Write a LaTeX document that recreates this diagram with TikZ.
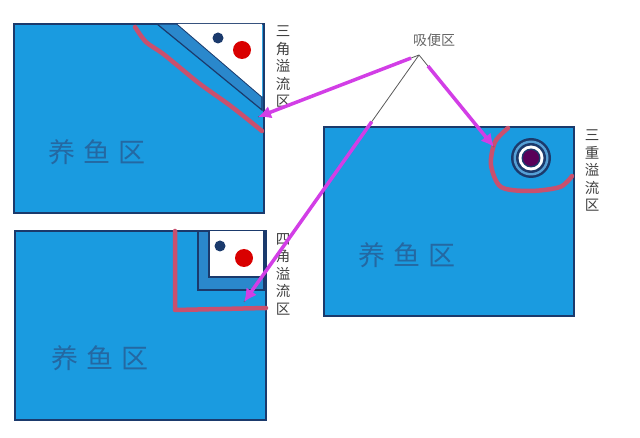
\documentclass[tikz,border=0pt]{standalone}
\usepackage{fontspec}
\newfontfamily\cjk{Noto Sans CJK SC}
\usetikzlibrary{arrows.meta, calc}
\definecolor{pondblue}{HTML}{1A9BE0}
\definecolor{stripblue}{HTML}{2A88CC}
\definecolor{edgenavy}{HTML}{1B3A6C}
\definecolor{wastered}{HTML}{C9506E}
\definecolor{arrowpink}{HTML}{D23EE6}
\definecolor{fishtext}{HTML}{2468A2}

\begin{document}
\begin{tikzpicture}[x=1pt, y=-1pt,
    tank/.style={rectangle, draw=edgenavy, line width=2pt, fill=pondblue,
      anchor=north west, inner sep=0pt},
    fish/.style={text=fishtext, font=\cjk\fontsize{27}{27}\selectfont},
    side/.style={align=center, text=black!75, anchor=north,
      font=\cjk\fontsize{14.5}{17.5}\selectfont, inner sep=0pt},
    waste/.style={draw=wastered, line width=4.5pt, line cap=round, line join=round},
    suck/.style={draw=arrowpink, line width=3.5pt, -{Latex[length=13pt,width=13pt]}},
    thread/.style={draw=black!65, line width=0.8pt},
    strip/.style={fill=stripblue, draw=edgenavy, line width=1.2pt}]

  \useasboundingbox (0,0) rectangle (640,438);

  % three fish tanks
  \node[tank, minimum width=250pt, minimum height=189pt] (tankA) at (13,23) {};
  \node[tank, minimum width=251pt, minimum height=189pt] (tankB) at (14,230) {};
  \node[tank, minimum width=250pt, minimum height=189pt] (tankC) at (323,126) {};

  % triangle corner
  \draw[strip] (157,24) -- (177,24) -- (262,97) -- (262,110) -- cycle;
  \fill[white] (177.6,24) -- (262,24) -- (262,96.5) -- cycle;
  \fill[edgenavy] (218,38) circle (5.5);
  \fill[red!85!black] (242,50) circle (9);
  \draw[waste] plot[smooth] coordinates {(135,27) (146,42) (162,53) (178,66)
    (200,84) (228,104) (246,118) (262,131)};

  % square corner
  \draw[strip] (198,231) -- (198,290) -- (264,290) -- (264,231) -- cycle;
  \draw[fill=white, draw=edgenavy, line width=1.2pt] (209,231) -- (209,277) -- (264,277) -- (264,231);
  \fill[edgenavy] (220,246) circle (5.5);
  \fill[red!85!black] (244,258) circle (9);
  \draw[waste] (175,231) -- (175,310) -- (266,308);

  % triple ring
  \coordinate (ring) at (531,158);
  \fill[edgenavy] (ring) circle (20);
  \fill[stripblue!80!white] (ring) circle (17.5);
  \fill[edgenavy] (ring) circle (15);
  \fill[white] (ring) circle (12.5);
  \fill[edgenavy] (ring) circle (9.5);
  \fill[violet!70!black] (ring) circle (8);
  \draw[waste] plot[smooth] coordinates {(508,128) (495,142) (491,165)
    (501,187) (530,191) (560,187) (572,176)};

  % tank labels
  \node[fish] (fishA) at (97,152) {养\hspace{8pt}鱼\hspace{8pt}区};
  \node[fish] (fishB) at (100,358) {养\hspace{8pt}鱼\hspace{8pt}区};
  \node[fish] (fishC) at (407,255) {养\hspace{8pt}鱼\hspace{8pt}区};

  \node[side] (triA) at (283,26) {三\\角\\溢\\流\\区};
  \node[side] (sqB) at (283,233) {四\\角\\溢\\流\\区};
  \node[side] (triC) at (592,130) {三\\重\\溢\\流\\区};

  % waste suction arrows
  \node[text=black!60, font=\cjk\fontsize{14}{14}\selectfont] (suction) at (434,40) {吸便区};
  \coordinate (apex) at (419,55);
  \coordinate (endA) at (258,117);
  \coordinate (endB) at (244,302);
  \coordinate (endC) at (494,147);
  \foreach \e/\f in {endA/0.05, endB/0.27, endC/0.12} {
    \draw[thread] (apex) -- (\e);
    \draw[suck] ($(apex)!\f!(\e)$) -- (\e);
  }
\end{tikzpicture}
\end{document}
